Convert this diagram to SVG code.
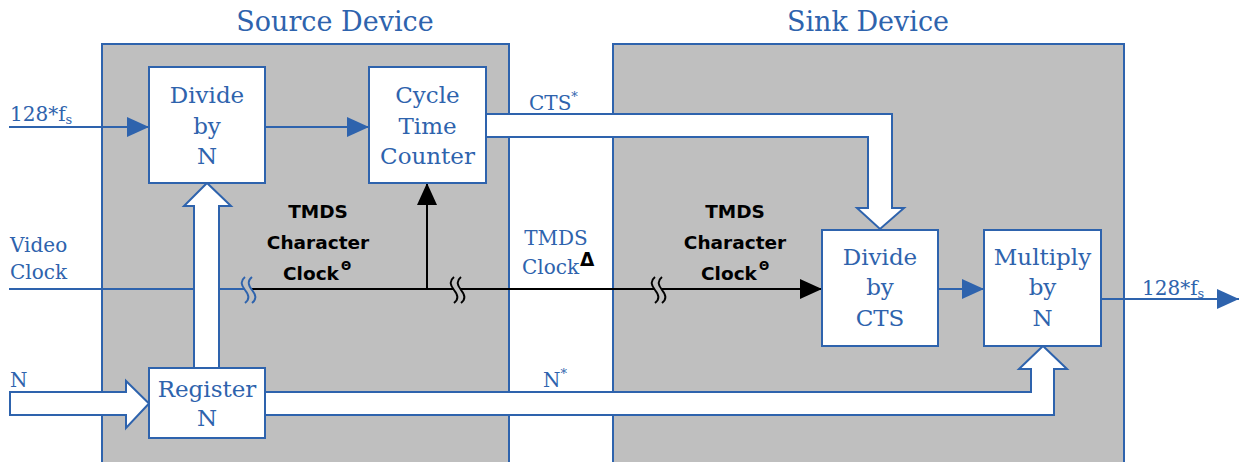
<svg xmlns="http://www.w3.org/2000/svg" width="1243" height="462" viewBox="0 0 1243 462">
<style>
.dev{fill:#bfbfbf;stroke:#2e63ad;stroke-width:2}
.box{fill:#fff;stroke:#2e63ad;stroke-width:2}
.bus{fill:#fff;stroke:#2e63ad;stroke-width:2;stroke-linejoin:miter}
.t{font-family:"DejaVu Serif","Liberation Serif",serif;fill:#2e63ad;font-size:23px}
.title{font-family:"DejaVu Serif","Liberation Serif",serif;fill:#2e63ad;font-size:27px}
.lbl{font-family:"DejaVu Serif","Liberation Serif",serif;fill:#2e63ad;font-size:20px}
.b{font-family:"DejaVu Sans","Liberation Sans",sans-serif;font-weight:bold;fill:#000;font-size:18.5px}
.bl{stroke:#2e63ad;stroke-width:2;fill:none}
.bk{stroke:#000;stroke-width:2;fill:none}
.sq{fill:none;stroke-width:2}
</style>
<defs>
<marker id="ab" viewBox="0 0 22 20" refX="22" refY="10" markerWidth="22" markerHeight="20" markerUnits="userSpaceOnUse" orient="auto"><path d="M0,0 L22,10 L0,20 Z" fill="#2e63ad"/></marker>
<marker id="ak" viewBox="0 0 22 20" refX="22" refY="10" markerWidth="22" markerHeight="20" markerUnits="userSpaceOnUse" orient="auto"><path d="M0,0 L22,10 L0,20 Z" fill="#000"/></marker>
<path id="sq" d="M0,-13 C-5,-9 -4,-5 0,0 C4,5 5,9 0,13"/>
</defs>

<g id="source-device">
<rect class="dev" x="102" y="44" width="407" height="430"/>
<text class="title" x="335" y="31" text-anchor="middle">Source Device</text>
</g>
<g id="sink-device">
<rect class="dev" x="613" y="44" width="511" height="430"/>
<text class="title" x="868" y="31" text-anchor="middle">Sink Device</text>
</g>

<g id="connectors">
<line class="bl" x1="9" y1="127" x2="149" y2="127" marker-end="url(#ab)"/>
<line class="bl" x1="265" y1="127" x2="369" y2="127" marker-end="url(#ab)"/>
<line class="bl" x1="9" y1="289" x2="245" y2="289"/>
<line class="bk" x1="252" y1="289" x2="454" y2="289"/>
<line class="bk" x1="461" y1="289" x2="655" y2="289"/>
<line class="bk" x1="662" y1="289" x2="822" y2="289" marker-end="url(#ak)"/>
<line class="bk" x1="427" y1="290" x2="427" y2="183" marker-end="url(#ak)"/>
<line class="bl" x1="938" y1="289" x2="984" y2="289" marker-end="url(#ab)"/>
<line class="bl" x1="1101" y1="299" x2="1239" y2="299" marker-end="url(#ab)"/>
<use href="#sq" x="245" y="290" class="sq" stroke="#2e63ad"/>
<use href="#sq" x="252" y="290" class="sq" stroke="#2e63ad"/>
<use href="#sq" x="454" y="290" class="sq" stroke="#000"/>
<use href="#sq" x="461" y="290" class="sq" stroke="#000"/>
<use href="#sq" x="655" y="290" class="sq" stroke="#000"/>
<use href="#sq" x="662" y="290" class="sq" stroke="#000"/>
<polygon class="bus" points="194,368 194,206 184,206 207,183 231,206 219,206 219,368"/>
<polygon class="bus" points="10,392 126,392 126,381 149,403.5 126,428 126,415 10,415"/>
<polygon class="bus" points="486,114 892,114 892,208 904,208 880,229 857,208 868,208 868,137 486,137"/>
<polygon class="bus" points="265,392 1031,392 1031,369 1019,369 1043,346 1067,369 1054,369 1054,415 265,415"/>
<text class="lbl" x="10" y="121">128*f<tspan font-size="13" dy="3">s</tspan></text>
<text class="lbl" x="10" y="252">Video</text>
<text class="lbl" x="10" y="279">Clock</text>
<text class="lbl" x="10" y="387">N</text>
<text class="lbl" x="529" y="110">CTS<tspan font-size="13" dy="-9">*</tspan></text>
<text class="lbl" x="543" y="387">N<tspan font-size="13" dy="-9">*</tspan></text>
<text class="lbl" x="556" y="245" text-anchor="middle">TMDS</text>
<text class="lbl" x="522" y="274">Clock<tspan class="b" font-size="11" dy="-8" dx="1">Δ</tspan></text>
<text class="lbl" x="1142" y="295">128*f<tspan font-size="13" dy="3">s</tspan></text>
<text class="b" x="318" y="218" text-anchor="middle">TMDS</text>
<text class="b" x="318" y="249" text-anchor="middle">Character</text>
<text class="b" x="283" y="280">Clock<tspan font-size="12" dy="-10" dx="2">Θ</tspan></text>
<text class="b" x="735" y="218" text-anchor="middle">TMDS</text>
<text class="b" x="735" y="249" text-anchor="middle">Character</text>
<text class="b" x="701" y="280">Clock<tspan font-size="12" dy="-10" dx="2">Θ</tspan></text>
</g>

<g id="divide-by-n">
<rect class="box" x="149" y="67" width="116" height="116"/>
<text class="t" x="207" y="103" text-anchor="middle">Divide</text>
<text class="t" x="207" y="133.5" text-anchor="middle">by</text>
<text class="t" x="207" y="164" text-anchor="middle">N</text>
</g>
<g id="cycle-time-counter">
<rect class="box" x="369" y="67" width="117" height="116"/>
<text class="t" x="427.5" y="103" text-anchor="middle">Cycle</text>
<text class="t" x="427.5" y="133.5" text-anchor="middle">Time</text>
<text class="t" x="427.5" y="164" text-anchor="middle">Counter</text>
</g>
<g id="register-n">
<rect class="box" x="149" y="368" width="116" height="70"/>
<text class="t" x="207" y="397" text-anchor="middle">Register</text>
<text class="t" x="207" y="426" text-anchor="middle">N</text>
</g>
<g id="divide-by-cts">
<rect class="box" x="822" y="230" width="116" height="116"/>
<text class="t" x="880" y="265" text-anchor="middle">Divide</text>
<text class="t" x="880" y="295" text-anchor="middle">by</text>
<text class="t" x="880" y="326" text-anchor="middle">CTS</text>
</g>
<g id="multiply-by-n">
<rect class="box" x="984" y="230" width="117" height="116"/>
<text class="t" x="1042.5" y="265" text-anchor="middle">Multiply</text>
<text class="t" x="1042.5" y="295" text-anchor="middle">by</text>
<text class="t" x="1042.5" y="326" text-anchor="middle">N</text>
</g>
</svg>
